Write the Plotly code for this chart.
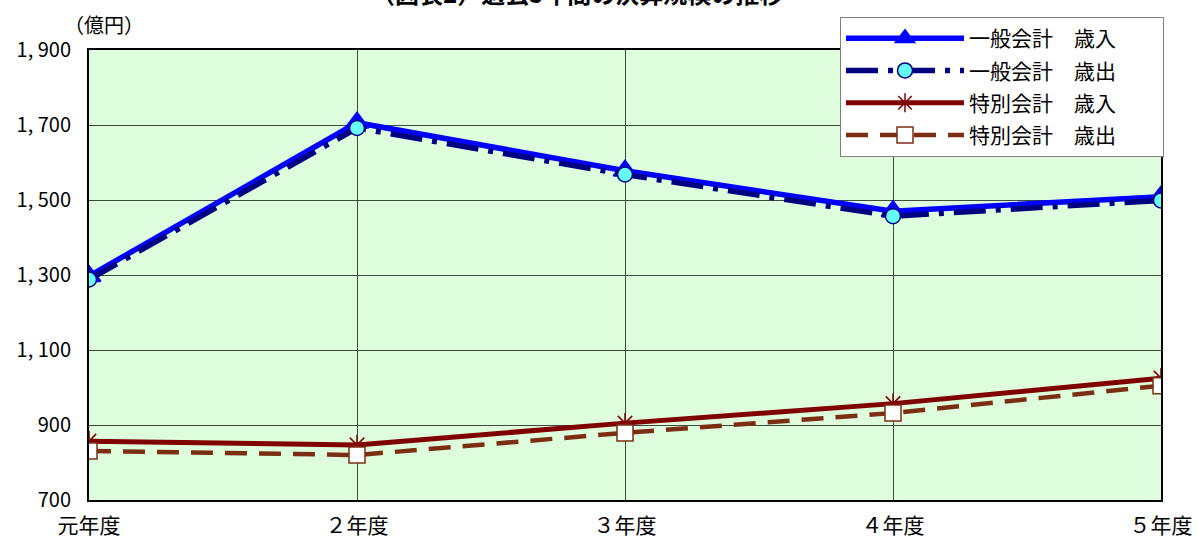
import plotly.graph_objects as go

# 決算規模（億円）
years = ["元年度", "２年度", "３年度", "４年度", "５年度"]
general_revenue = [1297, 1706, 1578, 1470, 1509]
general_expenditure = [1288, 1692, 1568, 1457, 1499]
special_revenue = [857, 847, 905, 957, 1025]
special_expenditure = [831, 820, 879, 932, 1005]

y_ticks = [700, 900, 1100, 1300, 1500, 1700, 1900]
y_tick_text = ["700", "900", "1, 100", "1, 300", "1, 500", "1, 700", "1, 900"]

FONT = "Noto Sans CJK JP"
x_pos = list(range(len(years)))
PAD = "　　"  # widens legend entries

fig = go.Figure()

fig.add_trace(go.Scatter(
    x=x_pos, y=general_revenue, name="一般会計　歳入" + PAD, mode="lines+markers",
    legendgroup="a",
    line=dict(color="#0000FF", width=5.5),
    marker=dict(symbol="triangle-up", size=20, color="#0000FF",
                line=dict(color="#0000FF", width=2)),
))
fig.add_trace(go.Scatter(
    x=x_pos, y=general_expenditure, name="一般会計　歳出" + PAD, mode="lines+markers",
    legendgroup="b",
    line=dict(color="#000080", width=5.5, dash="32px,10px,5px,10px"),
    marker=dict(symbol="circle", size=15, color="#66FFFF",
                line=dict(color="#000080", width=1.5)),
))
fig.add_trace(go.Scatter(
    x=x_pos, y=special_revenue, name="特別会計　歳入" + PAD, mode="lines+markers",
    legendgroup="c",
    line=dict(color="#800000", width=5),
    marker=dict(symbol="asterisk-open", size=17, color="#800000",
                line=dict(color="#800000", width=1.5)),
))
fig.add_trace(go.Scatter(
    x=x_pos, y=special_expenditure, name="特別会計　歳出" + PAD, mode="lines+markers",
    legendgroup="d",
    line=dict(color="#7B2E12", width=4.5, dash="22px,12px"),
    marker=dict(symbol="square", size=16, color="#FFFFFF",
                line=dict(color="#7B2E12", width=1.5)),
))

fig.update_layout(
    width=1198, height=540,
    margin=dict(l=89, r=37, t=50, b=40, autoexpand=False),
    paper_bgcolor="#FFFFFF",
    plot_bgcolor="#DDFDDD",
    font=dict(family=FONT, size=20, color="#000000"),
    showlegend=True,
    legend=dict(
        x=(840 - 89) / 1072, y=1 + 33 / 450, xanchor="left", yanchor="top",
        bgcolor="#FFFFFF", bordercolor="#808080", borderwidth=1,
        font=dict(family=FONT, size=21, color="#000000"),
        itemwidth=118, tracegroupgap=2,
    ),
)

fig.update_xaxes(
    range=[0, 4], tickmode="array", tickvals=x_pos, ticktext=years,
    showgrid=True, gridcolor="#3F4A3F", gridwidth=1,
    showline=True, linecolor="#000000", linewidth=2, mirror=True,
    ticks="", tickfont=dict(family=FONT, size=21), zeroline=False,
    ticklabelstandoff=6, automargin=False,
)
fig.update_yaxes(
    range=[700, 1900], tickmode="array", tickvals=y_ticks, ticktext=y_tick_text,
    showgrid=True, gridcolor="#3F4A3F", gridwidth=1,
    showline=True, linecolor="#000000", linewidth=2, mirror=True,
    ticks="", tickfont=dict(family=FONT, size=20), zeroline=False,
    ticklabelstandoff=12, automargin=False,
)

fig.add_annotation(
    text="（億円）", xref="paper", yref="paper", x=(62 - 89) / 1072, y=1 + 26 / 450,
    xanchor="left", yanchor="middle", showarrow=False,
    font=dict(family=FONT, size=20),
)
fig.add_annotation(
    text="<b>（図表2）過去5年間の決算規模の推移</b>", xref="paper", yref="paper",
    x=(577 - 89) / 1072, y=1 + 58 / 450, xanchor="center", yanchor="middle",
    showarrow=False, font=dict(family=FONT, size=24),
)

fig.write_html("out.html")
